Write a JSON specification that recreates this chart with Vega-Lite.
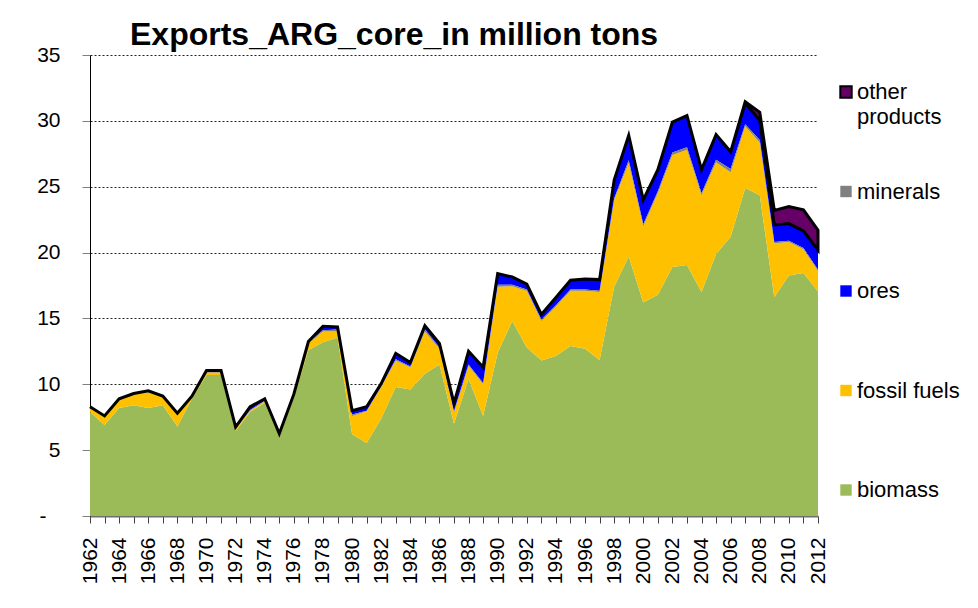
{
  "$schema": "https://vega.github.io/schema/vega-lite/v6.json",
  "width": 728,
  "height": 461,
  "autosize": {"type": "none"},
  "padding": {"left": 90, "top": 55, "right": 160, "bottom": 92},
  "background": "white",
  "title": {
    "text": "Exports_ARG_core_in million tons",
    "anchor": "start",
    "frame": "group",
    "dx": 40,
    "offset": -8,
    "fontSize": 32,
    "fontWeight": "bold",
    "font": "Liberation Sans",
    "color": "black"
  },
  "data": {
    "values": [
      {"year": 1962, "biomass": 7.9, "fossil fuels": 0.3, "ores": 0.05, "minerals": 0.05, "other products": 0},
      {"year": 1963, "biomass": 6.9, "fossil fuels": 0.6, "ores": 0.05, "minerals": 0.05, "other products": 0},
      {"year": 1964, "biomass": 8.2, "fossil fuels": 0.6, "ores": 0.05, "minerals": 0.05, "other products": 0},
      {"year": 1965, "biomass": 8.4, "fossil fuels": 0.8, "ores": 0.05, "minerals": 0.05, "other products": 0},
      {"year": 1966, "biomass": 8.2, "fossil fuels": 1.2, "ores": 0.05, "minerals": 0.05, "other products": 0},
      {"year": 1967, "biomass": 8.4, "fossil fuels": 0.6, "ores": 0.05, "minerals": 0.05, "other products": 0},
      {"year": 1968, "biomass": 6.8, "fossil fuels": 0.9, "ores": 0.05, "minerals": 0.05, "other products": 0},
      {"year": 1969, "biomass": 8.9, "fossil fuels": 0.1, "ores": 0.05, "minerals": 0.05, "other products": 0},
      {"year": 1970, "biomass": 10.7, "fossil fuels": 0.2, "ores": 0.1, "minerals": 0.05, "other products": 0},
      {"year": 1971, "biomass": 10.7, "fossil fuels": 0.2, "ores": 0.1, "minerals": 0.05, "other products": 0},
      {"year": 1972, "biomass": 6.45, "fossil fuels": 0.15, "ores": 0.1, "minerals": 0.05, "other products": 0},
      {"year": 1973, "biomass": 7.9, "fossil fuels": 0.1, "ores": 0.25, "minerals": 0.05, "other products": 0},
      {"year": 1974, "biomass": 8.6, "fossil fuels": 0.1, "ores": 0.15, "minerals": 0.05, "other products": 0},
      {"year": 1975, "biomass": 6.05, "fossil fuels": 0.1, "ores": 0.05, "minerals": 0.05, "other products": 0},
      {"year": 1976, "biomass": 9.0, "fossil fuels": 0.15, "ores": 0.05, "minerals": 0.05, "other products": 0},
      {"year": 1977, "biomass": 12.6, "fossil fuels": 0.5, "ores": 0.1, "minerals": 0.05, "other products": 0},
      {"year": 1978, "biomass": 13.2, "fossil fuels": 0.8, "ores": 0.3, "minerals": 0.1, "other products": 0},
      {"year": 1979, "biomass": 13.55, "fossil fuels": 0.5, "ores": 0.2, "minerals": 0.1, "other products": 0},
      {"year": 1980, "biomass": 6.2, "fossil fuels": 1.4, "ores": 0.3, "minerals": 0.1, "other products": 0},
      {"year": 1981, "biomass": 5.55, "fossil fuels": 2.4, "ores": 0.3, "minerals": 0.05, "other products": 0},
      {"year": 1982, "biomass": 7.4, "fossil fuels": 2.4, "ores": 0.2, "minerals": 0.05, "other products": 0},
      {"year": 1983, "biomass": 9.8, "fossil fuels": 2.0, "ores": 0.45, "minerals": 0.1, "other products": 0},
      {"year": 1984, "biomass": 9.6, "fossil fuels": 1.7, "ores": 0.3, "minerals": 0.05, "other products": 0},
      {"year": 1985, "biomass": 10.8, "fossil fuels": 3.2, "ores": 0.3, "minerals": 0.15, "other products": 0},
      {"year": 1986, "biomass": 11.5, "fossil fuels": 1.2, "ores": 0.3, "minerals": 0.1, "other products": 0},
      {"year": 1987, "biomass": 7.0, "fossil fuels": 0.85, "ores": 0.6, "minerals": 0.1, "other products": 0},
      {"year": 1988, "biomass": 10.4, "fossil fuels": 1.0, "ores": 1.0, "minerals": 0.1, "other products": 0},
      {"year": 1989, "biomass": 7.6, "fossil fuels": 2.4, "ores": 1.2, "minerals": 0.1, "other products": 0},
      {"year": 1990, "biomass": 12.4, "fossil fuels": 5.0, "ores": 0.85, "minerals": 0.15, "other products": 0},
      {"year": 1991, "biomass": 14.8, "fossil fuels": 2.65, "ores": 0.6, "minerals": 0.1, "other products": 0},
      {"year": 1992, "biomass": 12.8, "fossil fuels": 4.3, "ores": 0.4, "minerals": 0.1, "other products": 0},
      {"year": 1993, "biomass": 11.8, "fossil fuels": 3.0, "ores": 0.4, "minerals": 0.1, "other products": 0},
      {"year": 1994, "biomass": 12.15, "fossil fuels": 3.75, "ores": 0.6, "minerals": 0.1, "other products": 0},
      {"year": 1995, "biomass": 12.9, "fossil fuels": 4.2, "ores": 0.7, "minerals": 0.1, "other products": 0},
      {"year": 1996, "biomass": 12.7, "fossil fuels": 4.4, "ores": 0.8, "minerals": 0.1, "other products": 0},
      {"year": 1997, "biomass": 11.85, "fossil fuels": 5.15, "ores": 0.85, "minerals": 0.1, "other products": 0},
      {"year": 1998, "biomass": 17.4, "fossil fuels": 6.6, "ores": 1.4, "minerals": 0.1, "other products": 0},
      {"year": 1999, "biomass": 19.7, "fossil fuels": 7.1, "ores": 1.9, "minerals": 0.2, "other products": 0},
      {"year": 2000, "biomass": 16.2, "fossil fuels": 5.8, "ores": 1.85, "minerals": 0.15, "other products": 0},
      {"year": 2001, "biomass": 16.8, "fossil fuels": 7.7, "ores": 1.65, "minerals": 0.15, "other products": 0},
      {"year": 2002, "biomass": 18.9, "fossil fuels": 8.5, "ores": 2.3, "minerals": 0.2, "other products": 0},
      {"year": 2003, "biomass": 19.05, "fossil fuels": 8.75, "ores": 2.4, "minerals": 0.2, "other products": 0},
      {"year": 2004, "biomass": 17.0, "fossil fuels": 7.35, "ores": 1.8, "minerals": 0.15, "other products": 0},
      {"year": 2005, "biomass": 19.9, "fossil fuels": 6.95, "ores": 1.9, "minerals": 0.2, "other products": 0},
      {"year": 2006, "biomass": 21.2, "fossil fuels": 4.9, "ores": 1.3, "minerals": 0.25, "other products": 0},
      {"year": 2007, "biomass": 24.9, "fossil fuels": 4.7, "ores": 1.6, "minerals": 0.15, "other products": 0.1},
      {"year": 2008, "biomass": 24.35, "fossil fuels": 4.0, "ores": 1.5, "minerals": 0.2, "other products": 0.6},
      {"year": 2009, "biomass": 16.6, "fossil fuels": 4.1, "ores": 1.3, "minerals": 0.1, "other products": 1.1},
      {"year": 2010, "biomass": 18.25, "fossil fuels": 2.55, "ores": 1.3, "minerals": 0.1, "other products": 1.3},
      {"year": 2011, "biomass": 18.45, "fossil fuels": 1.8, "ores": 1.3, "minerals": 0.1, "other products": 1.6},
      {"year": 2012, "biomass": 17.05, "fossil fuels": 1.55, "ores": 1.5, "minerals": 0.1, "other products": 1.5}
    ]
  },
  "transform": [
    {"fold": ["biomass", "fossil fuels", "ores", "minerals", "other products"], "as": ["cat", "value"]}
  ],
  "mark": {"type": "area", "strokeWidth": 3, "strokeJoin": "miter"},
  "encoding": {
    "x": {
      "field": "year",
      "type": "quantitative",
      "scale": {"domain": [1962, 2012], "nice": false, "zero": false},
      "axis": {
        "title": null,
        "grid": false,
        "values": [1962,1963,1964,1965,1966,1967,1968,1969,1970,1971,1972,1973,1974,1975,1976,1977,1978,1979,1980,1981,1982,1983,1984,1985,1986,1987,1988,1989,1990,1991,1992,1993,1994,1995,1996,1997,1998,1999,2000,2001,2002,2003,2004,2005,2006,2007,2008,2009,2010,2011,2012],
        "format": "d",
        "labelExpr": "datum.value % 2 == 0 ? datum.label : ''",
        "labelAngle": 270,
        "labelAlign": "right",
        "labelBaseline": "middle",
        "labelFontSize": 21,
        "labelColor": "black",
        "labelPadding": 14,
        "labelOverlap": false,
        "labelFlush": false,
        "tickSize": 7,
        "tickColor": "#404040",
        "domainColor": "#707070",
        "domainWidth": 2
      }
    },
    "y": {
      "field": "value",
      "type": "quantitative",
      "stack": "zero",
      "scale": {"domain": [0, 35], "nice": false},
      "axis": {
        "title": null,
        "values": [0, 5, 10, 15, 20, 25, 30, 35],
        "labelExpr": "datum.value == 0 ? '-' : datum.label",
        "labelFontSize": 21,
        "labelColor": "black",
        "labelPadding": {"condition": {"test": "datum.value == 0", "value": 36}, "value": 22},
        "tickSize": 8,
        "tickColor": "#808080",
        "domainColor": "black",
        "domainWidth": 1,
        "grid": true,
        "gridColor": "#222222",
        "gridDash": [2, 2],
        "gridWidth": 1,
        "gridOpacity": 1
      }
    },
    "order": {"field": "cat", "type": "nominal", "sort": "ascending"},
    "color": {
      "field": "cat",
      "type": "nominal",
      "scale": {
        "domain": ["other products", "minerals", "ores", "fossil fuels", "biomass"],
        "range": ["#660066", "#808080", "#0000FF", "#FFC000", "#9BBB59"]
      },
      "legend": {
        "title": null,
        "orient": "none",
        "legendX": 745,
        "legendY": 26,
        "padding": 0,
        "symbolType": "square",
        "symbolSize": 130,
        "labelFontSize": 22,
        "labelColor": "black",
        "labelOffset": 0,
        "labelLimit": 200,
        "rowPadding": 52.5,
        "labelExpr": "datum.label == 'other products' ? ['other', 'products'] : [datum.label, '']",
        "encode": {
          "symbols": {
            "update": {
              "stroke": [{"test": "datum.value === 'other products'", "value": "black"}, {"value": "transparent"}],
              "strokeWidth": {"value": 2}
            }
          },
          "labels": {
            "update": {
              "lineHeight": {"value": 25}
            }
          }
        }
      }
    },
    "stroke": {
      "field": "cat",
      "type": "nominal",
      "scale": {
        "domain": ["other products", "minerals", "ores", "fossil fuels", "biomass"],
        "range": ["black", "transparent", "transparent", "transparent", "transparent"]
      },
      "legend": null
    }
  },
  "config": {
    "font": "Liberation Sans",
    "view": {"stroke": null}
  }
}
